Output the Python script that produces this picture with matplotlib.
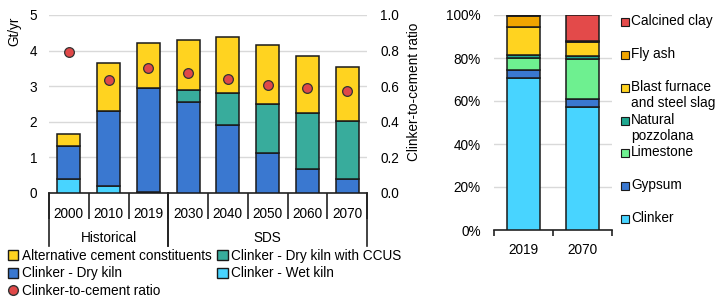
import matplotlib
matplotlib.use("Agg")
import matplotlib.pyplot as plt
import matplotlib.transforms as mtransforms
from matplotlib.patches import Patch, Rectangle
from matplotlib.lines import Line2D
from matplotlib.ticker import PercentFormatter
import numpy as np

plt.rcParams["font.family"] = ["Liberation Sans", "DejaVu Sans"]
plt.rcParams["font.size"] = 9.8

# ── Data: cement production (Gt/yr) ──────────────────────────────────────────
years = ["2000", "2010", "2019", "2030", "2040", "2050", "2060", "2070"]
groups = ["Historical", "SDS"]
group_spans = [(0, 2), (3, 7)]
wet_kiln = [0.40, 0.20, 0.02, 0.0, 0.0, 0.0, 0.0, 0.0]
dry_kiln = [0.91, 2.11, 2.94, 2.57, 1.92, 1.11, 0.67, 0.39]
dry_ccus = [0.0, 0.0, 0.0, 0.31, 0.88, 1.40, 1.58, 1.62]
alt_const = [0.35, 1.33, 1.26, 1.41, 1.57, 1.66, 1.59, 1.52]
clinker_ratio = [0.79, 0.635, 0.705, 0.675, 0.64, 0.605, 0.59, 0.572]

# ── Data: cement composition shares (%) ──────────────────────────────────────
mix_years = ["2019", "2070"]
mix_labels = ["Clinker", "Gypsum", "Limestone", "Natural\npozzolana",
              "Blast furnace\nand steel slag", "Fly ash", "Calcined clay"]
mix_2019 = [70.5, 4.1, 5.6, 1.4, 13.0, 5.1, 0.3]
mix_2070 = [57.1, 4.0, 18.3, 1.4, 6.6, 0.3, 12.3]

# colours
C_WET = "#48D4FF"
C_DRY = "#3A78D0"
C_CCUS = "#38AC9C"
C_ALT = "#FFD320"
C_RED = "#E04848"
mix_colors = [C_WET, C_DRY, "#6EF090", "#1FA890", C_ALT, "#F0A500", "#E34A4A"]
EDGE = "#1a1a1a"
GRID = "#D9D9D9"

W, H = 717, 300
fig = plt.figure(figsize=(W / 100, H / 100), dpi=100)

def fx(px):
    return px / W

def fy(py):
    return 1 - py / H

# ── Left chart ────────────────────────────────────────────────────────────────
ax = fig.add_axes([fx(49), fy(193), fx(367) - fx(49), fy(15) - fy(193)])
x = np.arange(len(years))
bw = 0.58
bottom = np.zeros(len(years))
for vals, col in [(wet_kiln, C_WET), (dry_kiln, C_DRY), (dry_ccus, C_CCUS), (alt_const, C_ALT)]:
    ax.bar(x, vals, bw, bottom=bottom, color=col, edgecolor=EDGE, linewidth=1.1, zorder=3)
    bottom += np.array(vals)

ax.set_xlim(-0.5, len(years) - 0.5)
ax.set_ylim(0, 5)
ax.set_yticks(range(6))
ax.grid(axis="y", color=GRID, linewidth=1.0, zorder=0)
ax.set_axisbelow(True)
for s in ["top", "right", "left"]:
    ax.spines[s].set_visible(False)
ax.spines["bottom"].set_color("#222222")
ax.spines["bottom"].set_linewidth(1.2)
ax.tick_params(axis="y", length=0, pad=8.5)
ax.set_ylabel("Gt/yr")
ax.yaxis.set_label_coords(-0.088, 0.91)

ax.set_xticks(x)
ax.set_xticklabels(years)
ax.tick_params(axis="x", which="major", length=0, pad=10)
ax.set_xticks(np.arange(-0.5, len(years), 1.0), minor=True)
ax.tick_params(axis="x", which="minor", length=19, width=1.2, color="#222222")

trans = mtransforms.blended_transform_factory(ax.transData, ax.transAxes)
for (a, b), g in zip(group_spans, groups):
    ax.text((a + b) / 2, -0.25, g, transform=trans, ha="center", va="center")
    for edge in (a - 0.5, b + 0.5):
        ax.plot([edge, edge], [0, -0.295], transform=trans, color="#222222",
                linewidth=1.2, clip_on=False)

ax2 = ax.twinx()
ax2.plot(x, clinker_ratio, linestyle="none", marker="o", markersize=7,
         markerfacecolor=C_RED, markeredgecolor="#333333", markeredgewidth=0.9, zorder=5)
ax2.set_ylim(0, 1)
ax2.set_yticks(np.linspace(0, 1, 6))
ax2.set_yticklabels([f"{v:.1f}" for v in np.linspace(0, 1, 6)])
for s in ["top", "right", "left", "bottom"]:
    ax2.spines[s].set_visible(False)
ax2.tick_params(axis="y", length=0, pad=9.5)
ax2.set_ylabel("Clinker-to-cement ratio")
ax2.yaxis.set_label_coords(1.127, 0.57)

handles = [
    Patch(facecolor=C_ALT, edgecolor=EDGE, label="Alternative cement constituents"),
    Patch(facecolor=C_DRY, edgecolor=EDGE, label="Clinker - Dry kiln"),
    Line2D([], [], linestyle="none", marker="o", markersize=7, markerfacecolor=C_RED,
           markeredgecolor="#333333", label="Clinker-to-cement ratio"),
    Patch(facecolor=C_CCUS, edgecolor=EDGE, label="Clinker - Dry kiln with CCUS"),
    Patch(facecolor=C_WET, edgecolor=EDGE, label="Clinker - Wet kiln"),
]
fig.legend(handles=handles, ncol=2, loc="upper left", bbox_to_anchor=(fx(8), fy(249)),
           frameon=False, handlelength=0.75, handleheight=0.75, handletextpad=0.25,
           columnspacing=0.45, labelspacing=0.25, borderaxespad=0, borderpad=0)

# ── Right chart ──────────────────────────────────────────────────────────────
bx = fig.add_axes([fx(494), fy(230), fx(612) - fx(494), fy(15) - fy(230)])
mx = np.arange(len(mix_years))
mix = np.array([mix_2019, mix_2070])
bot = np.zeros(len(mix_years))
for i, col in enumerate(mix_colors):
    bx.bar(mx, mix[:, i], 0.56, bottom=bot, color=col, edgecolor=EDGE, linewidth=1.1, zorder=3)
    bot += mix[:, i]
bx.set_xlim(-0.5, 1.5)
bx.set_ylim(0, 100)
bx.set_yticks(range(0, 101, 20))
bx.yaxis.set_major_formatter(PercentFormatter(decimals=0))
bx.grid(axis="y", color=GRID, linewidth=1.0, zorder=0)
bx.set_axisbelow(True)
for s in ["top", "right", "left"]:
    bx.spines[s].set_visible(False)
bx.spines["bottom"].set_color("#222222")
bx.spines["bottom"].set_linewidth(1.2)
bx.tick_params(axis="y", length=0, pad=9.5)
bx.set_xticks(mx)
bx.set_xticklabels(mix_years)
bx.tick_params(axis="x", which="major", length=0, pad=9)
bx.set_xticks([-0.5, 0.5, 1.5], minor=True)
bx.tick_params(axis="x", which="minor", length=4, width=1.2, color="#222222")

# manual legend for the composition chart (top entry first)
leg_rows = [22, 55, 88, 121, 153, 186, 219]
for row, lab, col in zip(leg_rows, mix_labels[::-1], mix_colors[::-1]):
    fig.add_artist(Rectangle((fx(621), fy(row + 4)), fx(8), fy(0) - fy(8),
                             transform=fig.transFigure, facecolor=col,
                             edgecolor=EDGE, linewidth=0.8))
    fig.text(fx(631), fy(row - 8), lab, ha="left", va="top", linespacing=1.15)

fig.savefig("out.png", dpi=100)
